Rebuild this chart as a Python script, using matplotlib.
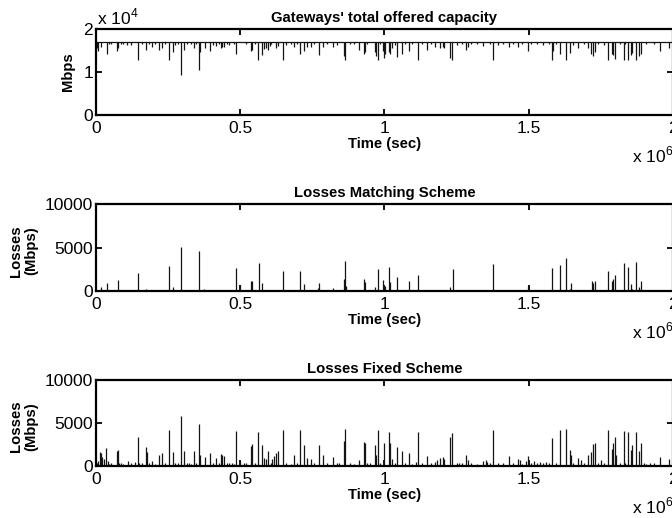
import matplotlib
matplotlib.use('Agg')
import matplotlib.pyplot as plt
import matplotlib.transforms as mtransforms
import numpy as np

plt.rcParams['font.family'] = ['Liberation Sans', 'DejaVu Sans']
plt.rcParams['mathtext.fontset'] = 'custom'
plt.rcParams['mathtext.rm'] = 'Liberation Sans'

# time axis is in units of 1e6 sec (shown as "x 10^6")
# --- gateways' total offered capacity (Mbps), nominal level + dips
cap_nominal = 16900
cap_t = [0.002, 0.007, 0.016, 0.037, 0.072, 0.076, 0.108, 0.146, 0.174, 0.195,
         0.220, 0.228, 0.252, 0.267, 0.296, 0.306, 0.339, 0.358, 0.360, 0.377,
         0.395, 0.416, 0.433, 0.438, 0.442, 0.486, 0.536, 0.542, 0.563, 0.574,
         0.581, 0.588, 0.597, 0.604, 0.625, 0.631, 0.647, 0.687, 0.707, 0.721,
         0.733, 0.746, 0.772, 0.787, 0.820, 0.860, 0.862, 0.911, 0.929, 0.932,
         0.967, 0.970, 0.977, 0.996, 0.997, 1.003, 1.015, 1.018, 1.026, 1.042,
         1.060, 1.084, 1.116, 1.146, 1.174, 1.193, 1.202, 1.207, 1.228, 1.235,
         1.284, 1.290, 1.341, 1.377, 1.432, 1.463, 1.498, 1.580, 1.584, 1.607,
         1.628, 1.643, 1.670, 1.704, 1.717, 1.723, 1.729, 1.775, 1.789, 1.791,
         1.798, 1.829, 1.844, 1.855, 1.857, 1.873, 1.882, 1.890, 1.955, 1.986]
cap_v = [15500, 14900, 15800, 14260, 15000, 15500, 16300, 12870, 15200, 15800,
         15200, 15500, 12710, 14600, 9300, 15200, 15500, 10540, 14700, 15500,
         15000, 16000, 15500, 15700, 15800, 14260, 15000, 15200, 12870, 13950,
         15300, 15500, 15200, 16100, 15500, 16000, 12870, 15800, 14100, 14900,
         15700, 15800, 13950, 15700, 15800, 13640, 12710, 15200, 14100, 14700,
         14700, 13800, 12710, 14900, 13330, 14260, 14700, 14260, 15500, 13480,
         14100, 14900, 12870, 15200, 15700, 15500, 15700, 15500, 13180, 12870,
         15200, 15800, 16100, 12710, 15700, 15800, 15000, 12710, 14900, 14100,
         12710, 14400, 15500, 15500, 14260, 13800, 14700, 12710, 14260, 13950,
         13020, 12710, 12710, 13950, 14400, 12710, 13800, 14260, 15000, 15500]

# --- losses, matching scheme (Mbps)
match_t = [0.016, 0.037, 0.076, 0.146, 0.174, 0.252, 0.267, 0.296, 0.358, 0.375,
           0.441, 0.486, 0.498, 0.536, 0.542, 0.564, 0.574, 0.647, 0.707, 0.721,
           0.770, 0.773, 0.823, 0.860, 0.862, 0.866, 0.929, 0.932, 0.967, 0.977,
           0.996, 1.002, 1.015, 1.018, 1.042, 1.084, 1.116, 1.228, 1.236, 1.377,
           1.498, 1.580, 1.607, 1.628, 1.643, 1.645, 1.718, 1.723, 1.729, 1.775,
           1.790, 1.793, 1.798, 1.829, 1.844, 1.856, 1.858, 1.873, 1.882, 1.890]
match_v = [500, 880, 1260, 2030, 200, 2870, 500, 5020, 4560, 200,
           150, 2640, 740, 1110, 1110, 3250, 880, 2260, 2260, 800,
           350, 950, 300, 1400, 3410, 600, 1420, 1040, 500, 2490,
           1260, 600, 2720, 1040, 1650, 1110, 1800, 420, 2490, 3100,
           600, 2640, 2950, 3790, 250, 880, 1110, 950, 1110, 2260,
           1110, 1340, 1800, 3250, 2800, 800, 250, 3330, 500, 1110]

# --- losses, fixed scheme (Mbps)
fixed_t = [0.007, 0.015, 0.019, 0.022, 0.028, 0.036, 0.040, 0.072, 0.075, 0.080,
           0.112, 0.134, 0.146, 0.150, 0.173, 0.178, 0.194, 0.220, 0.228, 0.252,
           0.266, 0.296, 0.306, 0.322, 0.339, 0.358, 0.360, 0.377, 0.395, 0.416,
           0.433, 0.438, 0.442, 0.470, 0.486, 0.498, 0.512, 0.536, 0.542, 0.563,
           0.574, 0.581, 0.588, 0.597, 0.611, 0.617, 0.625, 0.631, 0.647, 0.687,
           0.707, 0.721, 0.733, 0.746, 0.772, 0.787, 0.820, 0.843, 0.860, 0.862,
           0.911, 0.929, 0.932, 0.950, 0.967, 0.970, 0.977, 0.997, 1.015, 1.018,
           1.026, 1.042, 1.060, 1.084, 1.108, 1.116, 1.146, 1.174, 1.182, 1.193,
           1.202, 1.207, 1.228, 1.235, 1.258, 1.284, 1.290, 1.341, 1.351, 1.357,
           1.377, 1.432, 1.463, 1.468, 1.489, 1.498, 1.518, 1.538, 1.561, 1.580,
           1.607, 1.628, 1.643, 1.645, 1.670, 1.682, 1.704, 1.717, 1.723, 1.729,
           1.751, 1.775, 1.789, 1.791, 1.798, 1.804, 1.829, 1.844, 1.855, 1.857,
           1.873, 1.882, 1.890, 1.898, 1.920, 1.955, 1.986]
fixed_v = [590, 1620, 1500, 1000, 800, 2090, 590, 1770, 1850, 400,
           600, 500, 3350, 300, 2170, 1620, 590, 1230, 1500, 4140,
           1620, 5870, 1690, 400, 1690, 4920, 1300, 1000, 1540, 950,
           1420, 1260, 1200, 350, 4060, 590, 300, 2320, 2560, 3900,
           2400, 950, 870, 1690, 870, 1200, 1540, 1690, 4140, 1260,
           4140, 2400, 950, 870, 2480, 1260, 1000, 300, 2870, 4300,
           700, 2800, 2720, 300, 2480, 1300, 4140, 2700, 3900, 2720,
           800, 2250, 1690, 1540, 500, 3900, 1200, 500, 700, 950,
           1000, 870, 3430, 3820, 300, 1260, 700, 590, 700, 500,
           4220, 1200, 870, 700, 590, 1200, 590, 450, 450, 3270,
           4140, 4300, 1850, 1300, 950, 700, 1260, 1620, 2560, 2720,
           700, 4220, 2010, 2720, 3430, 1300, 4060, 3900, 1850, 2400,
           3980, 1770, 2640, 300, 300, 1000, 800]

# small background events seen along the baseline
floor_t = [0.003, 0.045, 0.052, 0.088, 0.095, 0.120, 0.160, 0.185, 0.205, 0.240,
           0.275, 0.285, 0.315, 0.330, 0.345, 0.405, 0.425, 0.455, 0.462, 0.480,
           0.520, 0.550, 0.605, 0.660, 0.675, 0.695, 0.755, 0.800, 0.835, 0.880,
           0.895, 0.940, 0.985, 1.035, 1.070, 1.095, 1.130, 1.160, 1.250, 1.270,
           1.300, 1.320, 1.365, 1.395, 1.410, 1.445, 1.478, 1.508, 1.528, 1.548,
           1.570, 1.595, 1.655, 1.690, 1.740, 1.760, 1.815, 1.835, 1.905, 1.935]
floor_loss = [300, 250, 350, 300, 250, 400, 300, 350, 250, 300,
              400, 300, 350, 250, 300, 400, 350, 300, 400, 250,
              300, 350, 300, 400, 250, 300, 350, 300, 400, 300,
              250, 350, 300, 400, 300, 250, 350, 300, 400, 300,
              350, 250, 300, 400, 350, 300, 250, 350, 300, 400,
              300, 350, 400, 300, 350, 400, 300, 350, 250, 300]
floor_cap = [16500, 16600, 16400, 16500, 16600, 16300, 16500, 16400, 16600, 16500,
             16300, 16500, 16400, 16600, 16500, 16300, 16400, 16500, 16300, 16600,
             16500, 16400, 16500, 16300, 16600, 16500, 16400, 16500, 16300, 16500,
             16600, 16400, 16500, 16300, 16500, 16600, 16400, 16500, 16300, 16500,
             16400, 16600, 16500, 16300, 16400, 16500, 16600, 16400, 16500, 16300,
             16500, 16400, 16300, 16500, 16400, 16300, 16500, 16400, 16600, 16500]

t_end = 2.0
x_ticks = [0, 0.5, 1, 1.5, 2]
x_ticklabels = ['0', '0.5', '1', '1.5', '2']
loss_ticks = [0, 5000, 10000]
cap_ticks = [0, 1, 2]   # x 10^4

line_kw = dict(colors='#141414', linewidth=0.9)

fig = plt.figure(figsize=(6.72, 5.18), dpi=100)
left, width = 96 / 672, 577 / 672
ax1 = fig.add_axes([left, 1 - 115 / 518, width, 86 / 518])
ax2 = fig.add_axes([left, 1 - 291 / 518, width, 87 / 518])
ax3 = fig.add_axes([left, 1 - 466 / 518, width, 86 / 518])

# capacity panel (values drawn in units of 1e4)
ax1.hlines(cap_nominal / 1e4, 0, t_end, **line_kw)
ax1.vlines(floor_t, np.array(floor_cap) / 1e4, cap_nominal / 1e4, **line_kw)
ax1.vlines(cap_t, np.array(cap_v) / 1e4, cap_nominal / 1e4, **line_kw)
ax1.set_ylim(0, 2)
ax1.set_yticks(cap_ticks)
ax1.set_yticklabels([str(v) for v in cap_ticks])

ax2.vlines(match_t, 0, match_v, **line_kw)
ax3.vlines(floor_t, 0, floor_loss, **line_kw)
ax3.vlines(fixed_t, 0, fixed_v, **line_kw)
for ax in (ax2, ax3):
    ax.set_ylim(0, 10000)
    ax.set_yticks(loss_ticks)
    ax.set_yticklabels([str(v) for v in loss_ticks])

titles = ["Gateways' total offered capacity", 'Losses Matching Scheme', 'Losses Fixed Scheme']
ylabels = ['Mbps', 'Losses\n(Mbps)', 'Losses\n(Mbps)']
label_x = [-0.036, -0.100, -0.100]

for ax, title, ylab, lx in zip((ax1, ax2, ax3), titles, ylabels, label_x):
    ax.set_xlim(0, t_end)
    ax.set_xticks(x_ticks)
    ax.set_xticklabels(x_ticklabels)
    ax.tick_params(direction='in', length=4, width=1.3, labelsize=12.5,
                   top=True, right=True, pad=4)
    ax.tick_params(axis='y', pad=2)
    for sp in ax.spines.values():
        sp.set_linewidth(1.6)
    ax.set_title(title, fontsize=10.7, fontweight='bold', pad=5)
    ax.set_xlabel('Time (sec)', fontsize=10.7, fontweight='bold', labelpad=1)
    ax.set_ylabel(ylab, fontsize=10.7, fontweight='bold', linespacing=1.15)
    ax.yaxis.set_label_coords(lx, 0.46 if ax is not ax1 else 0.5)
    # multiplier for the time axis, bottom right
    tr = mtransforms.offset_copy(ax.transAxes, fig=fig, y=-47, units='dots')
    ax.text(0.929, 0, r'x 10$^{6}$', transform=tr, fontsize=12.5, va='baseline', ha='left')

tr = mtransforms.offset_copy(ax1.transAxes, fig=fig, y=5, units='dots')
ax1.text(0.002, 1, r'x 10$^{4}$', transform=tr, fontsize=12.5, va='baseline', ha='left')

fig.savefig('out.png', dpi=100)
